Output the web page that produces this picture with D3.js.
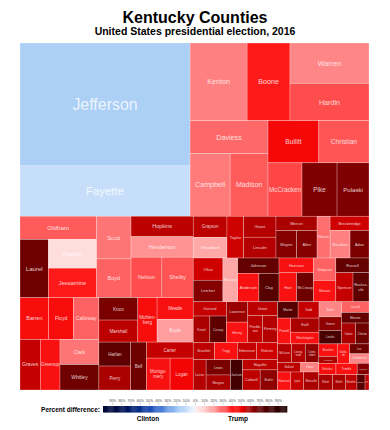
<!DOCTYPE html>
<html>
<head>
<meta charset="utf-8">
<script src="https://cdn.jsdelivr.net/npm/d3@7"></script>
<style>
  body { margin: 0; background: #fff; }
  text { font-family: "Liberation Sans", Arial, sans-serif; }
</style>
</head>
<body>
<svg id="chart" width="390" height="430"></svg>
<script>
// county names, population (thousands), margin (Trump minus Clinton, % points)
const counties = [
  "Jefferson", "Fayette", "Kenton", "Boone", "Warren", "Hardin", "Daviess", "Campbell", "Madison",
  "Bullitt", "Christian", "McCracken", "Pike", "Pulaski",
  "Oldham", "Laurel", "Franklin", "Jessamine", "Scott", "Boyd", "Hopkins", "Henderson", "Nelson", "Shelby",
  "Barren", "Floyd", "Calloway", "Graves", "Greenup", "Clark", "Whitley",
  "Knox", "Marshall", "Muhlenberg", "Meade", "Boyle", "Harlan", "Perry", "Bell", "Carter", "Montgomery", "Logan",
  "Grayson", "Woodford", "Taylor", "Grant", "Lincoln", "Mercer", "Wayne", "Allen", "Marion", "Breckinridge", "Bourbon", "Adair",
  "Ohio", "Letcher", "Rowan", "Johnson", "Anderson", "Clay", "Harrison", "Hart", "McCreary", "Simpson", "Mason",
  "Russell", "Spencer", "Rockcastle",
  "Garrard", "Knott", "Casey", "Lawrence", "Henry", "Union", "Pendleton", "Fleming",
  "Breathitt", "Trigg", "Edmonson", "Webster",
  "Larue", "Lewis", "Morgan", "Jackson", "Magoffin", "Caldwell", "Butler",
  "Martin", "Todd", "Powell", "Estill", "Washington", "Bath", "Green", "Leslie", "Carroll", "Monroe", "Owen", "Clinton",
  "McLean", "Livingston", "Crittenden", "Ballard", "Fulton", "Hancock", "Lyon", "Metcalfe",
  "Bracken", "Hickman", "Gallatin", "Lee", "Cumberland", "Nicholas", "Trimble", "Carlisle",
  "Elliott", "Wolfe", "Menifee", "Owsley", "Robertson"
];

const population = [
  760, 311, 161, 121, 116, 107, 94, 91, 86,
  78, 77, 66, 68, 62,
  64.6, 60.2, 50.3, 51.6, 53.5, 48.6, 46.3, 46.3, 45.4, 46.1,
  43.6, 37.5, 38.6, 37.3, 36.3, 35.6, 36.0,
  31.7, 31.2, 31.1, 28.6, 29.8, 27.7, 27.7, 27.4, 27.2, 27.4, 26.8,
  26.0, 25.3, 25.3, 24.7, 24.5, 21.4, 20.6, 20.4, 19.8, 20.1, 20.0, 19.0,
  24.0, 23.3, 23.6, 23.0, 21.9, 20.8, 18.6, 18.5, 17.9, 18.1, 17.3,
  17.7, 18.2, 16.9,
  17.2, 16.0, 15.9, 15.8, 15.8, 14.9, 14.6, 14.5,
  13.4, 14.3, 12.1, 13.2,
  14.2, 13.5, 13.3, 13.4, 12.9, 12.8, 12.7,
  12.2, 12.4, 12.4, 14.5, 12.0, 12.3, 11.1, 10.9, 10.7, 10.6, 10.7, 10.2,
  9.4, 9.3, 9.1, 8.1, 6.3, 8.7, 8.3, 10.0,
  8.4, 4.6, 8.7, 7.0, 6.7, 7.1, 8.8, 4.9,
  7.6, 7.2, 6.4, 4.5, 2.2
];

const margin = [
  -15.5, -9.5, 25, 40, 24, 33, 29, 26, 31,
  47, 32, 34, 65, 65,
  31, 68, 6, 40, 27, 30, 56, 22, 33, 32,
  45, 45, 30, 55, 44, 27, 68,
  66, 56, 45, 44, 20, 72, 58, 68, 55, 44, 48,
  56, 18, 54, 57, 57, 58, 64, 64, 28, 54, 25, 66,
  54, 64, 18, 70, 44, 74, 44, 44, 68, 30, 43,
  70, 55, 72,
  55, 58, 72, 60, 43, 56, 56, 57,
  56, 44, 55, 54,
  57, 66, 58, 80, 56, 56, 62,
  74, 55, 43, 58, 44, 24, 62, 78, 30, 70, 58, 68,
  57, 57, 62, 56, 25, 43, 55, 58,
  44, 58, 44, 68, 24, 45, 44, 64,
  58, 58, 56, 74, 56
];

// grouping of counties into nested blocks
const blocks = [
  [
    ["Jefferson", "Fayette"],
    [
      ["Kenton", "Boone", ["Warren", "Hardin"]],
      [["Daviess", ["Campbell", "Madison"]],
       [["Bullitt", "Christian"], ["McCracken", "Pike", "Pulaski"]]]
    ]
  ],
  [
    [
      [["Oldham", ["Laurel", ["Franklin", "Jessamine"]]],
       ["Scott", "Boyd"],
       ["Hopkins", "Henderson", ["Nelson", "Shelby"]]],
      [[["Barren", "Floyd", "Calloway"], ["Graves", "Greenup", ["Clark", "Whitley"]]],
       [[["Knox", "Marshall"], "Muhlenberg", ["Meade", "Boyle"]],
        [["Harlan", "Perry"], "Bell", ["Carter", ["Montgomery", "Logan"]]]]]
    ],
    [
      [["Grayson", "Woodford"], "Taylor", ["Grant", "Lincoln"], ["Mercer", ["Wayne", "Allen"]],
       "Marion", ["Breckinridge", ["Bourbon", "Adair"]]],
      [["Ohio", "Letcher"], "Rowan", ["Johnson", ["Anderson", "Clay"]], ["Harrison", ["Hart", "McCreary"]],
       ["Simpson", "Mason"], ["Russell", ["Spencer", "Rockcastle"]]],
      [
        [[["Garrard", ["Knott", "Casey"]], ["Lawrence", "Henry"], ["Union", ["Pendleton", "Fleming"]]],
         ["Breathitt", "Trigg", "Edmonson", "Webster"],
         ["Larue", ["Lewis", "Morgan"], "Jackson", ["Magoffin", ["Caldwell", "Butler"]]]],
        [
          [[["Martin", "Todd"], ["Powell", ["Estill", "Washington"]]],
           ["Bath", "Green", "Leslie"],
           ["Carroll", "Monroe", ["Owen", "Clinton"]]],
          [[["McLean", "Livingston", "Crittenden"], ["Ballard", "Fulton"], ["Hancock", "Lyon", "Metcalfe"]],
           [[["Bracken", "Hickman"], "Gallatin", ["Lee", "Cumberland"]],
            ["Nicholas", "Trimble", "Carlisle"],
            ["Elliott", "Wolfe", "Menifee", "Owsley", "Robertson"]]]
        ]
      ]
    ]
  ]
];

const legendTicks = [-90, -80, -70, -60, -50, -40, -30, -20, -10, 0, 10, 20, 30, 40, 50, 60, 70, 80, 90];

const svg = d3.select("#chart");

const trumpColor = d3.scaleLinear()
  .domain([0, 10, 20, 30, 40, 50, 60, 70, 80, 90, 100])
  .range(["#fff2f2", "#ffcfcf", "#ff9e9e", "#ff6262", "#ff1a1a", "#f00000", "#9a0000", "#640000", "#440000", "#2e0000", "#200000"]);
const clintonColor = d3.scaleLinear()
  .domain([0, 10, 20, 30, 40, 50, 60, 70, 80, 90, 100])
  .range(["#f2f6ff", "#c4ddfa", "#98c4f3", "#6898e0", "#3a6cd0", "#1a48b0", "#0a2e8a", "#001a6a", "#00104e", "#000a40", "#000838"]);
const color = m => m >= 0 ? trumpColor(m) : clintonColor(-m);

const index = new Map(counties.map((c, i) => [c, i]));
function toNode(item) {
  if (typeof item === "string") {
    const i = index.get(item);
    return { name: item, value: population[i], margin: margin[i] };
  }
  return { children: item.map(toNode) };
}

const root = d3.hierarchy(toNode(blocks))
  .sum(d => d.value || 0);

const width = 349, height = 347;
d3.treemap()
  .size([width, height])
  .tile((node, x0, y0, x1, y1) =>
    (node.depth % 2 === 0 ? d3.treemapSlice : d3.treemapDice)(node, x0, y0, x1, y1))(root);

const g = svg.append("g").attr("transform", "translate(20,43)");

const cell = g.selectAll("g.cell")
  .data(root.leaves())
  .enter().append("g")
  .attr("class", "cell");

cell.append("rect")
  .attr("x", d => d.x0)
  .attr("y", d => d.y0)
  .attr("width", d => d.x1 - d.x0)
  .attr("height", d => d.y1 - d.y0)
  .attr("fill", d => color(d.data.margin))
  .attr("stroke", "#fff")
  .attr("stroke-opacity", 0.5)
  .attr("stroke-width", 0.5);

// label size grows with cell area, shrunk to fit
cell.each(function(d) {
  const w = d.x1 - d.x0, h = d.y1 - d.y0;
  const name = d.data.name;
  let f = 0.364 * Math.pow(w * h, 0.38);
  if (w * h < 7000) f = Math.min(f, 7.2);
  const fit = w * 0.92 / (0.55 * name.length);
  let lines = [name];
  if (fit < f * 0.9 && name.length >= 8 && h > 3 * f) {
    const cut = Math.ceil(name.length * 0.6);
    lines = [name.slice(0, cut) + "-", name.slice(cut)];
    f = Math.min(f, w * 0.92 / (0.55 * lines[0].length));
  } else {
    f = Math.min(f, fit);
  }
  f = Math.min(f, h * 0.7);
  const cx = (d.x0 + d.x1) / 2, cy = (d.y0 + d.y1) / 2;
  const t = d3.select(this).append("text")
    .attr("x", cx)
    .attr("y", cy - (lines.length - 1) * f * 0.55)
    .attr("text-anchor", "middle")
    .attr("fill", "#fff")
    .attr("fill-opacity", 0.8)
    .style("font-size", f + "px");
  lines.forEach((l, i) => {
    t.append("tspan")
      .attr("x", cx)
      .attr("dy", i === 0 ? "0.35em" : "1.1em")
      .text(l);
  });
});

// Titles
svg.append("text")
  .attr("x", 195).attr("y", 23)
  .attr("text-anchor", "middle")
  .style("font-size", "16px").style("font-weight", "bold")
  .text("Kentucky Counties");
svg.append("text")
  .attr("x", 195).attr("y", 35)
  .attr("text-anchor", "middle")
  .style("font-size", "10.5px").style("font-weight", "bold")
  .text("United States presidential election, 2016");

// Legend
const lx = d3.scaleLinear().domain([-100, 100]).range([103, 287]);
const legend = svg.append("g");
legend.selectAll("rect")
  .data(d3.range(-100, 100, 1))
  .enter().append("rect")
  .attr("x", d => lx(d))
  .attr("y", 406)
  .attr("width", lx(1) - lx(0) + 0.3)
  .attr("height", 6.5)
  .attr("fill", d => color(d + 0.5));

const axis = legend.append("g")
  .attr("transform", "translate(0,405)")
  .call(d3.axisTop(lx).tickValues(legendTicks).tickSize(2.5).tickFormat(d => Math.abs(d) + "%"));
axis.select(".domain").remove();
axis.selectAll("line").attr("stroke", "#888").attr("stroke-width", 0.4);
axis.selectAll("text")
  .attr("y", -3.2)
  .style("font-size", "3.5px")
  .attr("fill", "#444");

legend.append("text")
  .attr("x", 100).attr("y", 411.5)
  .attr("text-anchor", "end")
  .style("font-size", "6.5px").style("font-weight", "bold")
  .text("Percent difference:");
legend.append("text")
  .attr("x", 148).attr("y", 421)
  .attr("text-anchor", "middle")
  .style("font-size", "6.5px").style("font-weight", "bold")
  .text("Clinton");
legend.append("text")
  .attr("x", 238).attr("y", 421)
  .attr("text-anchor", "middle")
  .style("font-size", "6.5px").style("font-weight", "bold")
  .text("Trump");
</script>
</body>
</html>
